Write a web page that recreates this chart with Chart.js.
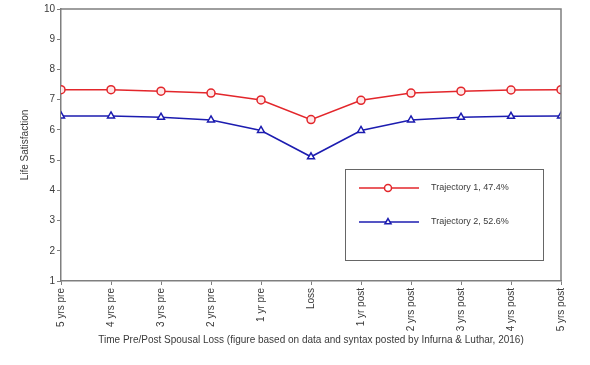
<!DOCTYPE html>
<html>
<head>
<meta charset="utf-8">
<script src="https://cdn.jsdelivr.net/npm/chart.js@4/dist/chart.umd.min.js"></script>
<style>
  html, body { margin: 0; padding: 0; background: #fff; }
  #wrap { width: 590px; height: 365px; position: relative; }
</style>
</head>
<body>
<div id="wrap"><canvas id="chart" width="590" height="365"></canvas></div>
<script>
// time points around the loss
const categories = ['5 yrs pre', '4 yrs pre', '3 yrs pre', '2 yrs pre', '1 yr pre', 'Loss',
    '1 yr post', '2 yrs post', '3 yrs post', '4 yrs post', '5 yrs post'];

// mean life satisfaction per trajectory
const trajectory1 = [7.33, 7.33, 7.28, 7.22, 6.99, 6.34, 6.98, 7.22, 7.28, 7.32, 7.33];
const trajectory2 = [6.46, 6.46, 6.42, 6.33, 5.98, 5.11, 5.98, 6.33, 6.42, 6.45, 6.46];

const seriesLabels = ['Trajectory 1, 47.4%', 'Trajectory 2, 52.6%'];

const yMin = 1;
const yMax = 10;
const yStep = 1;

const FONT = 'Liberation Sans, Arial, sans-serif';
const red = '#e3262b';
const blue = '#1c1cb0';
const axisGray = '#7f7f7f';
const textGray = '#3a3a3a';

Chart.defaults.font.family = FONT;
Chart.defaults.font.size = 10;
Chart.defaults.color = textGray;

// frame on top/right of plot + the boxed legend inside the plot
const framePlugin = {
    id: 'frame',
    afterDraw(chart) {
        let ctx = chart.ctx;
        let a = chart.chartArea;
        ctx.save();
        ctx.strokeStyle = axisGray;
        ctx.lineWidth = 1.5;
        ctx.beginPath();
        ctx.moveTo(a.left, a.top);
        ctx.lineTo(a.right, a.top);
        ctx.lineTo(a.right, a.bottom);
        ctx.stroke();

        // legend box
        let bx = 345.5, by = 169.5, bw = 198, bh = 91;
        ctx.lineWidth = 1;
        ctx.strokeStyle = '#666';
        ctx.fillStyle = '#fff';
        ctx.fillRect(bx, by, bw, bh);
        ctx.strokeRect(bx, by, bw, bh);

        chart.data.datasets.forEach((ds, i) => {
            let y = 188 + i * 34;
            ctx.strokeStyle = ds.borderColor;
            ctx.lineWidth = 1.5;
            ctx.beginPath();
            ctx.moveTo(359, y);
            ctx.lineTo(419, y);
            ctx.stroke();
            ctx.fillStyle = '#fff';
            Chart.helpers.drawPoint(ctx, {
                pointStyle: ds.pointStyle,
                radius: 3.5,
                borderWidth: 1.5,
                rotation: 0
            }, 388, y);
            ctx.fillStyle = textGray;
            ctx.font = '9px ' + FONT;
            ctx.textBaseline = 'middle';
            ctx.textAlign = 'left';
            ctx.fillText(ds.label, 431, y);
        });
        ctx.restore();
    }
};

let ctx = document.getElementById('chart').getContext('2d');
new Chart(ctx, {
    type: 'line',
    data: {
        labels: categories,
        datasets: [
            {
                label: seriesLabels[0],
                data: trajectory1,
                borderColor: red,
                borderWidth: 1.5,
                pointStyle: 'circle',
                pointRadius: 4,
                pointBorderWidth: 1.5,
                pointBackgroundColor: '#fde8e8',
                pointBorderColor: red,
                tension: 0,
                clip: 0
            },
            {
                label: seriesLabels[1],
                data: trajectory2,
                borderColor: blue,
                borderWidth: 1.5,
                pointStyle: 'triangle',
                pointRadius: 4,
                pointBorderWidth: 1.5,
                pointBackgroundColor: '#ffffff',
                pointBorderColor: blue,
                tension: 0,
                clip: 0
            }
        ]
    },
    options: {
        responsive: false,
        animation: false,
        devicePixelRatio: 1,
        layout: { padding: { left: 0, top: 9, right: 29, bottom: 0 } },
        plugins: {
            legend: { display: false },
            tooltip: { enabled: false }
        },
        scales: {
            x: {
                offset: false,
                grid: {
                    display: true,
                    drawOnChartArea: false,
                    drawTicks: true,
                    tickLength: 4,
                    color: axisGray
                },
                border: { color: axisGray, width: 1.5 },
                ticks: {
                    autoSkip: false,
                    minRotation: 90,
                    maxRotation: 90,
                    padding: 3,
                    color: textGray,
                    font: { size: 10 }
                },
                title: {
                    display: true,
                    text: 'Time Pre/Post Spousal Loss (figure based on data and syntax posted by Infurna & Luthar, 2016)',
                    color: textGray,
                    font: { size: 10 },
                    padding: { top: 0, bottom: 19 }
                },
                afterFit(scale) { scale.height = 84; }
            },
            y: {
                min: yMin,
                max: yMax,
                grid: {
                    display: true,
                    drawOnChartArea: false,
                    drawTicks: true,
                    tickLength: 4,
                    color: axisGray
                },
                border: { color: axisGray, width: 1.5 },
                ticks: {
                    stepSize: yStep,
                    padding: 2,
                    color: textGray,
                    font: { size: 10 }
                },
                title: {
                    display: true,
                    text: 'Life Satisfaction',
                    color: textGray,
                    font: { size: 10 },
                    padding: { top: 19, bottom: 0 }
                },
                afterFit(scale) { scale.width = 61; }
            }
        }
    },
    plugins: [framePlugin]
});
</script>
</body>
</html>
